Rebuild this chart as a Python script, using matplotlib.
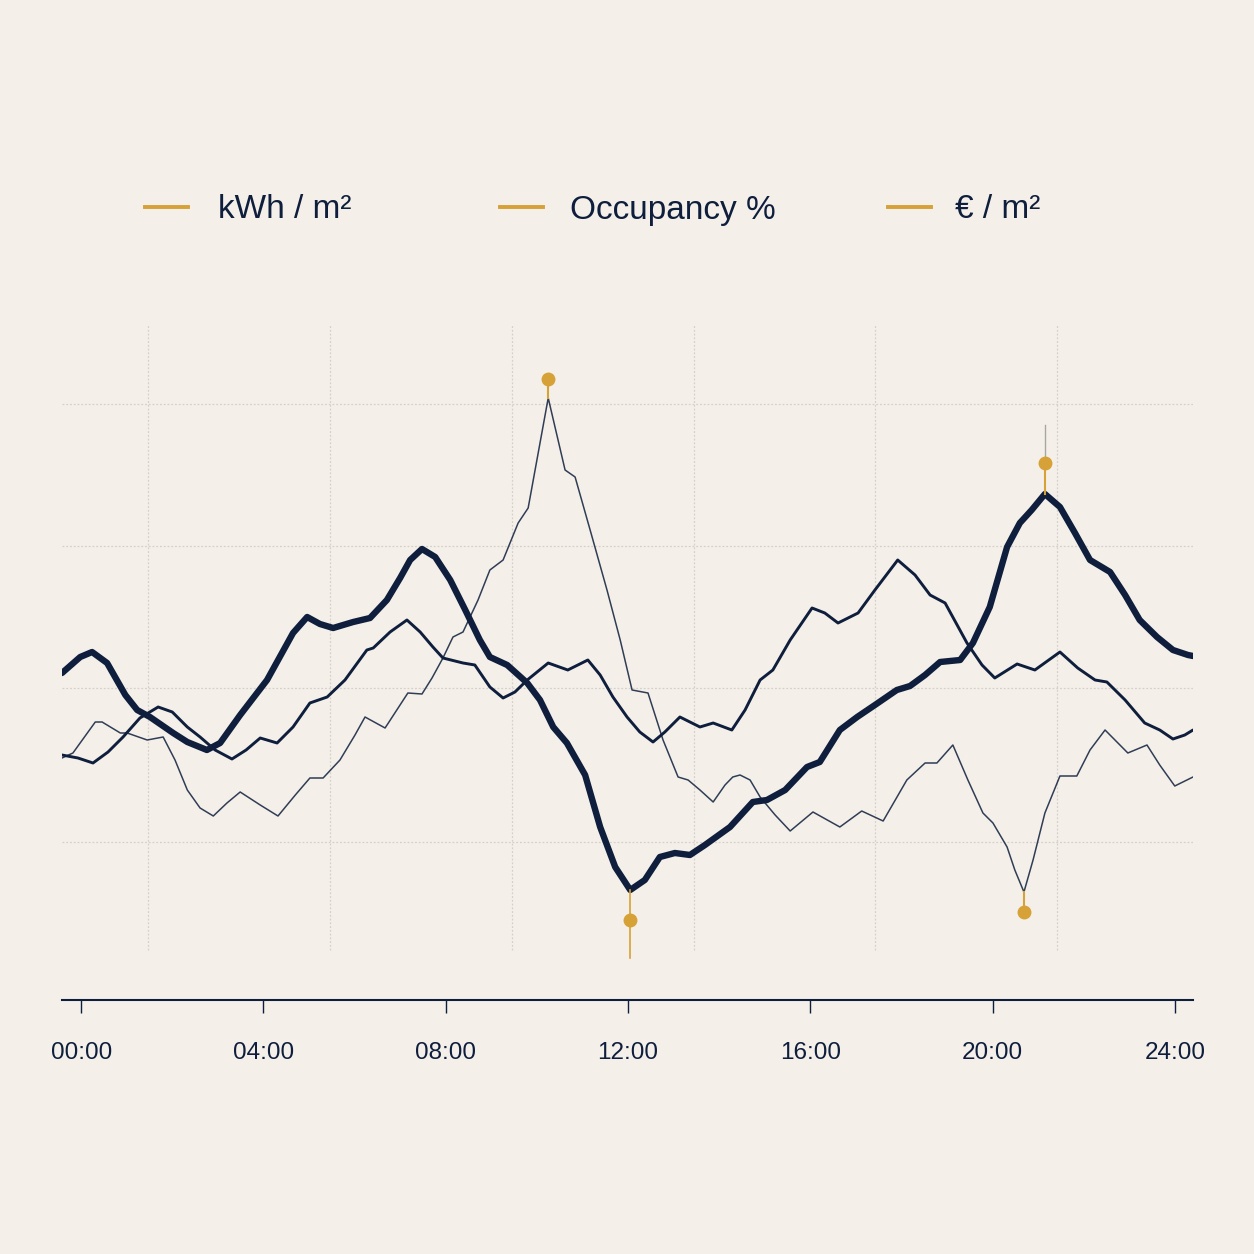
import numpy as np
import matplotlib
matplotlib.use('Agg')
import matplotlib.pyplot as plt
from matplotlib.lines import Line2D

plt.rcParams['font.family'] = ['Liberation Sans', 'DejaVu Sans']

# colours
bg = '#F4F0E9'
navy = '#0E1E3C'
gold = '#D6A137'
grid_col = '#D5D1CA'

# series labels (legend)
labels = ['kWh / m\u00b2', 'Occupancy %', '\u20ac / m\u00b2']

# thick series: time (h) and value
kwh_t = [-0.42, -0.02, 0.24, 0.57, 0.97, 1.23, 1.51, 2.02, 2.33, 2.76, 3.05, 3.49, 4.08, 4.65,
         4.96, 5.24, 5.53, 5.97, 6.34, 6.71, 7.00, 7.22, 7.48, 7.77, 8.10, 8.43, 8.75, 8.97,
         9.35, 9.79, 10.07, 10.36, 10.66, 11.06, 11.39, 11.72, 12.05, 12.37, 12.70, 13.03,
         13.36, 13.69, 14.24, 14.74, 15.05, 15.45, 15.93, 16.21, 16.65, 17.03, 17.42, 17.90,
         18.19, 18.52, 18.85, 19.29, 19.57, 19.94, 20.32, 20.60, 20.86, 21.15, 21.48, 21.81,
         22.14, 22.58, 22.91, 23.23, 23.61, 23.96, 24.29, 24.40]
kwh_v = [32.7, 34.3, 34.8, 33.7, 30.5, 29.0, 28.3, 26.7, 25.8, 25.0, 25.7, 28.5, 32.0, 36.7,
         38.3, 37.6, 37.2, 37.8, 38.2, 40.0, 42.2, 44.0, 45.1, 44.3, 42.0, 39.0, 36.0, 34.3,
         33.5, 31.7, 30.0, 27.3, 25.7, 22.5, 17.3, 13.3, 11.0, 12.0, 14.3, 14.7,
         14.5, 15.5, 17.3, 19.8, 20.0, 21.0, 23.3, 23.8, 27.0, 28.3, 29.5, 31.0,
         31.4, 32.5, 33.8, 34.0, 35.7, 39.3, 45.3, 47.7, 49.0, 50.6, 49.3, 46.7,
         44.0, 42.8, 40.5, 38.0, 36.3, 35.0, 34.5, 34.4]

# medium series
occ_t = [-0.42, -0.07, 0.26, 0.59, 0.92, 1.29, 1.69, 2.00, 2.33, 2.61, 2.94, 3.31, 3.62, 3.93,
         4.30, 4.65, 5.02, 5.40, 5.79, 6.27, 6.41, 6.78, 7.15, 7.44, 7.72, 7.94, 8.38, 8.64,
         8.97, 9.26, 9.52, 9.79, 10.25, 10.68, 11.12, 11.39, 11.67, 11.98, 12.26, 12.55,
         12.81, 13.14, 13.58, 13.87, 14.28, 14.57, 14.90, 15.18, 15.56, 16.04, 16.32, 16.61,
         17.05, 17.42, 17.92, 18.30, 18.63, 18.96, 19.44, 19.77, 20.05, 20.54, 20.93, 21.48,
         21.87, 22.25, 22.51, 22.91, 23.34, 23.67, 23.96, 24.22, 24.40]
occ_v = [24.5, 24.2, 23.7, 24.8, 26.3, 28.2, 29.3, 28.8, 27.3, 26.3, 25.0, 24.1, 25.0, 26.2,
         25.7, 27.3, 29.7, 30.3, 32.0, 35.0, 35.2, 36.8, 38.0, 36.8, 35.3, 34.2, 33.7, 33.5,
         31.3, 30.2, 30.8, 32.0, 33.7, 33.0, 34.0, 32.5, 30.3, 28.3, 26.8, 25.8,
         26.8, 28.3, 27.3, 27.7, 27.0, 29.0, 32.0, 33.0, 36.0, 39.2, 38.7, 37.7,
         38.7, 41.0, 44.0, 42.5, 40.5, 39.7, 35.7, 33.5, 32.2, 33.6, 33.0, 34.8,
         33.2, 32.0, 31.8, 30.0, 27.7, 27.0, 26.1, 26.5, 27.0]

# thin series
eur_t = [-0.42, -0.18, 0.31, 0.46, 0.86, 1.01, 1.45, 1.80, 2.06, 2.33, 2.61, 2.90, 3.20, 3.49,
         3.93, 4.32, 4.70, 5.02, 5.31, 5.68, 6.01, 6.23, 6.67, 7.17, 7.48, 7.70, 7.94, 8.16,
         8.38, 8.71, 8.97, 9.26, 9.59, 9.81, 10.25, 10.62, 10.84, 11.17, 11.54, 11.83, 12.09,
         12.44, 12.77, 13.10, 13.32, 13.58, 13.87, 14.13, 14.30, 14.46, 14.68, 14.90, 15.23,
         15.56, 16.06, 16.65, 17.13, 17.60, 18.12, 18.52, 18.78, 19.13, 19.46, 19.79, 20.01,
         20.32, 20.49, 20.69, 20.89, 21.15, 21.48, 21.85, 22.14, 22.47, 22.97, 23.39, 23.67,
         24.00, 24.40]
eur_v = [24.2, 24.7, 27.8, 27.8, 26.7, 26.7, 26.0, 26.3, 24.0, 21.0, 19.2, 18.4, 19.7, 20.8,
         19.5, 18.4, 20.5, 22.2, 22.2, 24.0, 26.5, 28.3, 27.2, 30.7, 30.6, 32.2, 34.2, 36.3,
         36.8, 40.0, 43.0, 44.0, 47.7, 49.2, 60.2, 53.0, 52.3, 47.0, 41.0, 36.0, 31.0,
         30.7, 26.0, 22.3, 22.0, 21.0, 19.8, 21.5, 22.3, 22.5, 22.0, 20.3, 18.5,
         16.9, 18.8, 17.3, 18.9, 17.9, 22.0, 23.7, 23.7, 25.5, 22.0, 18.7, 17.7,
         15.3, 13.0, 10.8, 14.0, 18.7, 22.4, 22.4, 25.0, 27.0, 24.7, 25.5, 23.5,
         21.4, 22.3]

tick_hours = [0, 4, 8, 12, 16, 20, 24]
tick_labels = ['00:00', '04:00', '08:00', '12:00', '16:00', '20:00', '24:00']
hgrid_levels = [59.6, 45.4, 31.2, 15.8]
vgrid_hours = [1.47, 5.46, 9.45, 13.44, 17.43, 21.42]

fig = plt.figure(figsize=(12.54, 12.54), dpi=100, facecolor=bg)
ax = fig.add_axes([62 / 1254, 254 / 1254, 1131 / 1254, 700 / 1254])
ax.set_facecolor(bg)
ax.set_xlim(-0.42, 24.40)
ax.set_ylim(0, 70)

# dotted grid
for g in hgrid_levels:
    ax.axhline(g, color=grid_col, lw=0.9, ls=(0, (1.5, 1.5)), zorder=1)
ax.vlines(vgrid_hours, 5.0, 67.5, color=grid_col, lw=0.9, ls=(0, (1.5, 1.5)), zorder=1)

# series
ax.plot(eur_t, eur_v, color=navy, lw=1.1, alpha=0.85, zorder=3, solid_joinstyle='round')
ax.plot(occ_t, occ_v, color=navy, lw=2.1, zorder=3, solid_joinstyle='round', solid_capstyle='round')
ax.plot(kwh_t, kwh_v, color=navy, lw=4.6, zorder=4, solid_joinstyle='round', solid_capstyle='round')

# highlighted extremes
i = int(np.argmax(eur_v))
ax.plot([eur_t[i], eur_t[i]], [eur_v[i], eur_v[i] + 1.9], color=gold, lw=1.5, zorder=5)
ax.plot(eur_t[i], eur_v[i] + 1.9, 'o', color=gold, ms=9, zorder=6)

i = int(np.argmin(kwh_v))
ax.plot([kwh_t[i], kwh_t[i]], [kwh_v[i], kwh_v[i] - 6.8], color=gold, lw=1.2, zorder=5)
ax.plot(kwh_t[i], kwh_v[i] - 3.0, 'o', color=gold, ms=9, zorder=6)

i = int(np.argmax(kwh_v))
ax.plot([kwh_t[i], kwh_t[i]], [kwh_v[i] + 3.1, kwh_v[i] + 6.9], color='#A8A6A2', lw=1.0, zorder=5)
ax.plot([kwh_t[i], kwh_t[i]], [kwh_v[i], kwh_v[i] + 3.1], color=gold, lw=1.5, zorder=5)
ax.plot(kwh_t[i], kwh_v[i] + 3.1, 'o', color=gold, ms=9, zorder=6)

i = int(np.argmin(eur_v))
ax.plot([eur_t[i], eur_t[i]], [eur_v[i], eur_v[i] - 2.0], color=gold, lw=1.5, zorder=5)
ax.plot(eur_t[i], eur_v[i] - 2.0, 'o', color=gold, ms=9, zorder=6)

# axes styling
for s in ['top', 'right', 'left']:
    ax.spines[s].set_visible(False)
ax.spines['bottom'].set_color(navy)
ax.spines['bottom'].set_linewidth(1.5)
ax.set_yticks([])
ax.set_xticks(tick_hours)
ax.set_xticklabels(tick_labels, fontsize=17.5, color=navy)
ax.tick_params(axis='x', direction='out', length=9, width=1, color=navy, pad=21)

# legend drawn by hand
leg_y = 1 - 207 / 1254
handle_x = [145, 500, 888]
text_x = [218, 570, 955]
for hx, tx, lab in zip(handle_x, text_x, labels):
    fig.add_artist(Line2D([hx / 1254, (hx + 43) / 1254], [leg_y, leg_y], color=gold, lw=2.8,
                          transform=fig.transFigure))
    fig.text(tx / 1254, leg_y - 3 / 1254, lab, fontsize=24, color=navy, ha='left', va='center')

fig.savefig('out.png', dpi=100, facecolor=bg)
